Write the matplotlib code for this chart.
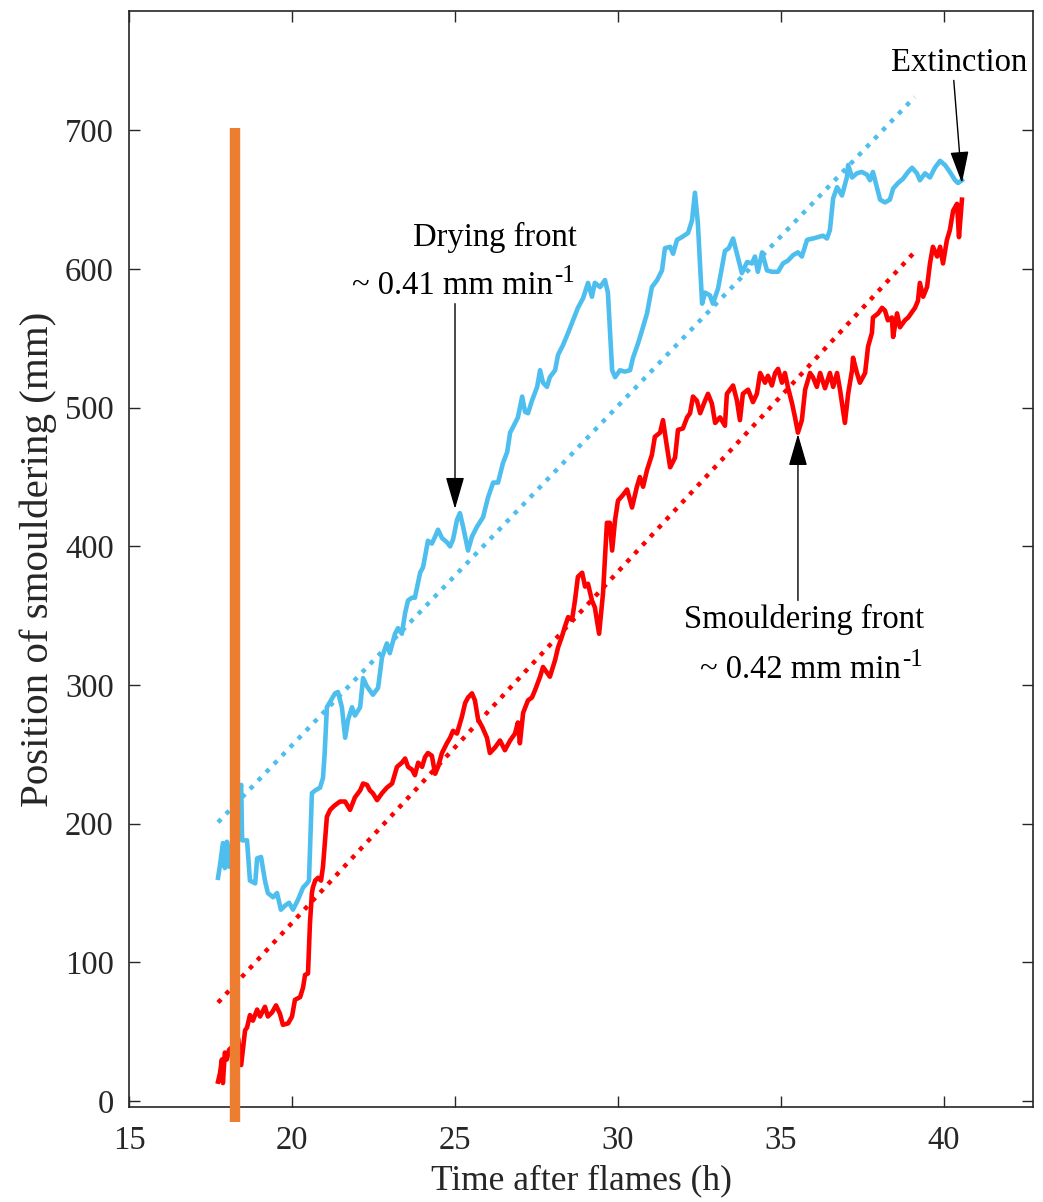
import numpy as np
import matplotlib
matplotlib.use("Agg")
import matplotlib.pyplot as plt

# Drying front (blue) - time after flames (h), position (mm)
drying_t = [17.73, 17.79, 17.88, 17.94, 18.00, 18.07, 18.20, 18.35, 18.44, 18.47,
            18.62, 18.71, 18.87, 18.93, 19.05, 19.17, 19.26, 19.42, 19.54, 19.66,
            19.79, 19.91, 20.03, 20.18, 20.34, 20.46, 20.52, 20.61, 20.71, 20.86,
            20.95, 21.00, 21.07, 21.17, 21.32, 21.41, 21.53, 21.63, 21.72, 21.84,
            21.93, 22.09, 22.18, 22.30, 22.39, 22.48, 22.64, 22.76, 22.91, 23.00,
            23.16, 23.25, 23.37, 23.47, 23.56, 23.68, 23.77, 23.93, 24.02, 24.17,
            24.29, 24.39, 24.48, 24.60, 24.75, 24.85, 24.94, 25.06, 25.15, 25.25,
            25.40, 25.52, 25.67, 25.86, 26.01, 26.17, 26.32, 26.47, 26.60, 26.69,
            26.78, 26.93, 27.06, 27.15, 27.24, 27.36, 27.52, 27.61, 27.70, 27.82,
            27.91, 28.07, 28.16, 28.31, 28.47, 28.62, 28.77, 28.93, 29.08, 29.20,
            29.29, 29.45, 29.60, 29.69, 29.82, 29.91, 30.06, 30.21, 30.37, 30.46,
            30.61, 30.74, 30.89, 31.04, 31.20, 31.35, 31.44, 31.60, 31.69, 31.81,
            31.96, 32.15, 32.27, 32.36, 32.45, 32.58, 32.67, 32.82, 32.91, 33.07,
            33.28, 33.40, 33.53, 33.65, 33.80, 33.96, 34.11, 34.20, 34.29, 34.42,
            34.57, 34.72, 34.91, 35.06, 35.21, 35.37, 35.52, 35.64, 35.80, 35.98,
            36.13, 36.29, 36.41, 36.50, 36.60, 36.72, 36.87, 37.02, 37.06, 37.18,
            37.33, 37.48, 37.64, 37.73, 37.82, 37.94, 38.04, 38.19, 38.34, 38.44,
            38.59, 38.74, 38.90, 39.02, 39.17, 39.26, 39.42, 39.57, 39.72, 39.88,
            40.03, 40.18, 40.34, 40.43, 40.55]
drying_y = [161, 170, 186, 168, 187, 169, 195, 215, 228, 188,
            188, 159, 157, 175, 176, 159, 150, 147, 150, 138,
            141, 143, 138, 145, 154, 157, 159, 222, 224, 226,
            233, 250, 284, 288, 294, 295, 284, 262, 275, 284,
            278, 284, 305, 299, 296, 293, 298, 320, 330, 323,
            337, 341, 337, 352, 361, 363, 363, 381, 385, 404,
            402, 407, 412, 406, 403, 400, 405, 419, 424, 414,
            397, 407, 414, 421, 435, 446, 446, 460, 468, 482,
            486, 493, 508, 497, 496, 505, 515, 527, 518, 515,
            522, 527, 538, 545, 554, 563, 572, 579, 590, 580,
            590, 587, 592, 583, 527, 522, 527, 526, 527, 536,
            546, 556, 568, 587, 592, 599, 615, 616, 611, 621,
            623, 626, 635, 655, 633, 575, 583, 581, 575, 586,
            613, 615, 622, 611, 597, 605, 604, 609, 598, 612,
            599, 598, 598, 604, 606, 610, 612, 609, 621, 622,
            623, 624, 622, 628, 651, 659, 653, 666, 675, 666,
            669, 670, 668, 664, 670, 659, 650, 648, 650, 658,
            662, 665, 670, 673, 669, 664, 669, 666, 673, 678,
            675, 670, 664, 662, 664]

# Smouldering front (red)
smoulder_t = [17.73, 17.79, 17.85, 17.88, 17.94, 18.00, 18.07, 18.20, 18.35, 18.44,
              18.56, 18.62, 18.71, 18.80, 18.93, 19.02, 19.17, 19.26, 19.39, 19.51,
              19.63, 19.72, 19.88, 20.00, 20.09, 20.25, 20.34, 20.40, 20.49, 20.55,
              20.61, 20.64, 20.71, 20.80, 20.89, 20.95, 21.07, 21.17, 21.30, 21.47,
              21.63, 21.78, 21.93, 22.09, 22.18, 22.30, 22.39, 22.48, 22.61, 22.76,
              22.91, 23.07, 23.22, 23.37, 23.47, 23.56, 23.68, 23.77, 23.87, 23.99,
              24.08, 24.17, 24.29, 24.39, 24.48, 24.60, 24.75, 24.85, 24.94, 25.06,
              25.21, 25.31, 25.40, 25.52, 25.61, 25.71, 25.83, 25.98, 26.07, 26.23,
              26.38, 26.53, 26.69, 26.84, 26.93, 26.99, 27.09, 27.24, 27.36, 27.45,
              27.61, 27.70, 27.82, 27.91, 28.07, 28.16, 28.28, 28.37, 28.47, 28.59,
              28.68, 28.77, 28.90, 28.99, 29.08, 29.20, 29.29, 29.42, 29.54, 29.66,
              29.75, 29.82, 29.91, 30.00, 30.15, 30.28, 30.43, 30.58, 30.67, 30.77,
              30.89, 31.04, 31.13, 31.29, 31.38, 31.50, 31.60, 31.75, 31.84, 31.99,
              32.12, 32.21, 32.30, 32.42, 32.52, 32.67, 32.76, 32.88, 32.98, 33.13,
              33.28, 33.34, 33.53, 33.65, 33.74, 33.83, 33.99, 34.14, 34.26, 34.36,
              34.51, 34.60, 34.72, 34.82, 34.91, 35.03, 35.12, 35.21, 35.34, 35.43,
              35.52, 35.64, 35.74, 35.89, 35.98, 36.10, 36.20, 36.35, 36.50, 36.60,
              36.72, 36.81, 36.96, 37.06, 37.18, 37.21, 37.33, 37.42, 37.58, 37.67,
              37.79, 37.82, 37.98, 38.10, 38.19, 38.28, 38.40, 38.44, 38.56, 38.65,
              38.80, 38.90, 39.02, 39.11, 39.20, 39.26, 39.36, 39.48, 39.57, 39.66,
              39.79, 39.88, 39.97, 40.09, 40.18, 40.28, 40.40, 40.46, 40.55]
smoulder_y = [14, 20, 30, 13, 35, 30, 37, 40, 45, 26,
              51, 53, 62, 58, 66, 61, 68, 61, 64, 69,
              63, 55, 56, 61, 73, 75, 82, 91, 92, 128,
              150, 154, 159, 161, 159, 169, 205, 210, 213, 216,
              216, 210, 219, 224, 229, 228, 224, 222, 217, 222,
              226, 229, 241, 244, 247, 241, 239, 235, 244, 241,
              248, 251, 249, 236, 241, 251, 258, 262, 267, 265,
              277, 287, 291, 294, 289, 275, 270, 262, 251, 255,
              260, 253, 260, 265, 273, 258, 280, 289, 291, 296,
              306, 313, 309, 306, 318, 327, 335, 342, 349, 347,
              361, 378, 381, 371, 373, 361, 356, 337, 366, 417,
              417, 397, 419, 433, 437, 441, 428, 443, 450, 443,
              455, 466, 479, 482, 491, 472, 457, 464, 484, 485,
              493, 496, 508, 505, 496, 505, 510, 503, 489, 493,
              487, 510, 516, 505, 491, 510, 513, 504, 510, 525,
              518, 523, 516, 525, 528, 518, 525, 515, 503, 493,
              482, 491, 513, 525, 522, 515, 525, 514, 525, 515,
              525, 513, 489, 510, 527, 536, 525, 518, 525, 544,
              554, 565, 568, 572, 570, 563, 565, 551, 568, 558,
              563, 565, 569, 572, 577, 590, 580, 587, 604, 616,
              609, 616, 604, 621, 628, 642, 647, 623, 650]

# linear fits (dotted)
drying_fit_t = [17.73, 39.10]
drying_fit_y = [201, 724]
smoulder_fit_t = [17.73, 39.05]
smoulder_fit_y = [71, 611]

# time of flame-out marker
marker_t = 18.25
marker_y = [-15, 702]

BLUE = '#4DBEEE'
RED = '#FF0000'
ORANGE = '#ED7D31'

plt.rcParams['font.family'] = ['Liberation Serif', 'DejaVu Serif']

fig = plt.figure(figsize=(10.43, 12.02), dpi=100)
ax = fig.add_axes([0.1237, 0.0790, 0.8667, 0.9118])

ax.plot(drying_t, drying_y, color=BLUE, lw=3.3, solid_joinstyle='round')
ax.plot(smoulder_t, smoulder_y, color=RED, lw=3.3, solid_joinstyle='round')
ax.plot(drying_fit_t, drying_fit_y, color=BLUE, lw=3.2, linestyle=(0, (1, 1.6)))
ax.plot(smoulder_fit_t, smoulder_fit_y, color=RED, lw=3.2, linestyle=(0, (1, 1.6)))
ax.plot([marker_t, marker_t], marker_y, color=ORANGE, lw=7.5,
        solid_capstyle='butt', clip_on=False, zorder=5)

ax.set_xlim(15, 42.73)
ax.set_ylim(-4.3, 786)
ax.set_xticks([15, 20, 25, 30, 35, 40])
ax.set_yticks(range(0, 701, 100))
ax.tick_params(direction='in', length=8, width=1.0, labelsize=23.5,
               top=True, right=True, colors='#262626', pad=11)
ax.tick_params(axis='x', pad=13)
for sp in ax.spines.values():
    sp.set_linewidth(1.2)
    sp.set_color('#262626')

ax.set_xlabel('Time after flames (h)', fontsize=25.5, color='#262626', labelpad=6)
ax.set_ylabel('Position of smouldering (mm)', fontsize=29.5, color='#262626', labelpad=6)

arrow = dict(arrowstyle='-|>,head_length=1.0,head_width=0.29', color='black',
             lw=1.0, mutation_scale=20, shrinkA=0, shrinkB=0)
txt = dict(fontsize=23.5, ha='center', va='center', color='black')

ax.annotate('', xy=(40.55, 662), xytext=(40.3, 736), arrowprops=arrow)
ax.text(40.46, 749, 'Extinction', **txt)

ax.annotate('', xy=(25.0, 427), xytext=(25.0, 575), arrowprops=arrow)
ax.text(26.23, 623, 'Drying front', **txt)
t1 = ax.text(24.91, 588, '~ 0.41 mm min', **txt)
ax.annotate('-1', xy=(1, 1), xycoords=t1, xytext=(1, 4), textcoords='offset points',
            fontsize=18, ha='left', va='top')

ax.annotate('', xy=(35.52, 481), xytext=(35.52, 361), arrowprops=arrow)
ax.text(35.71, 347, 'Smouldering front', **txt)
t2 = ax.text(35.58, 311, '~ 0.42 mm min', **txt)
ax.annotate('-1', xy=(1, 1), xycoords=t2, xytext=(1, 4), textcoords='offset points',
            fontsize=18, ha='left', va='top')

fig.savefig('out.png', dpi=100)
